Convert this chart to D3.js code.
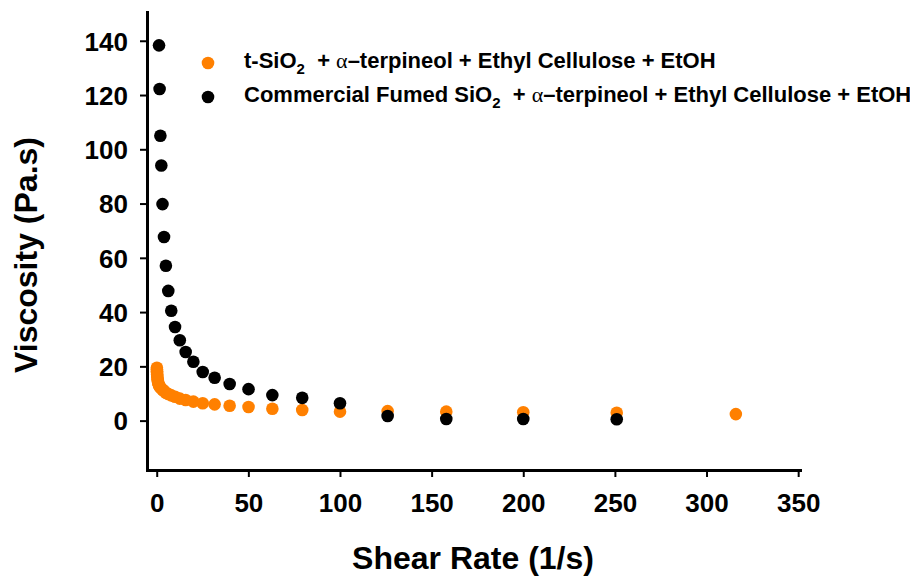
<!DOCTYPE html>
<html>
<head>
<meta charset="utf-8">
<script src="https://cdn.jsdelivr.net/npm/d3@7"></script>
<style>
  html, body { margin: 0; padding: 0; background: #fff; }
  svg { display: block; }
  text { font-family: "Liberation Sans", Arial, sans-serif; font-weight: bold; fill: #000; }
</style>
</head>
<body>
<svg id="chart" width="910" height="577"></svg>
<script>
// Shear rate (1/s) and viscosity (Pa.s) for the two pastes
const tSiO2Rate = [0.1, 0.126, 0.158, 0.2, 0.251, 0.316, 0.398, 0.501, 0.631, 0.794,
  1, 1.26, 1.58, 2, 2.51, 3.16, 3.98, 5.01, 6.31, 7.94,
  10, 12.6, 15.8, 20, 25.1, 31.6, 39.8, 50.1, 63.1, 79.4,
  100, 126, 158, 200, 251, 316];
const tSiO2Visc = [19.5, 18.8, 18.2, 17.6, 17.0, 16.4, 15.8, 15.2, 14.6, 14.0,
  13.5, 13.0, 12.6, 12.2, 11.9, 11.4, 10.9, 10.3, 9.8, 9.3,
  8.8, 8.1, 7.6, 7.0, 6.4, 6.0, 5.5, 5.0, 4.4, 3.9,
  3.3, 3.5, 3.3, 3.1, 2.9, 2.4];

const fumedRate = [1.26, 1.58, 2, 2.51, 3.16, 3.98, 5.01, 6.31, 7.94, 10,
  12.6, 15.8, 20, 25.1, 31.6, 39.8, 50.1, 63.1, 79.4, 100,
  126, 158, 200, 251];
const fumedVisc = [138.3, 122.2, 105.0, 94.0, 79.8, 67.7, 57.1, 47.8, 40.5, 34.5,
  29.6, 25.3, 21.7, 17.9, 15.8, 13.5, 11.6, 9.4, 8.4, 6.4,
  1.7, 0.6, 0.6, 0.5];

const xTicks = [0, 50, 100, 150, 200, 250, 300, 350];
const yTicks = [0, 20, 40, 60, 80, 100, 120, 140];

const seriesNames = ["t-SiO", "Commercial Fumed SiO"];
const seriesColors = ["#ff8000", "#000000"];

const svg = d3.select("#chart");

const x = d3.scaleLinear().domain([-5.3, 351]).range([147, 800]);
const y = d3.scaleLinear().domain([-18.2, 150.6]).range([470, 12]);

// Axes
const xAxis = svg.append("g")
  .attr("transform", `translate(0,${y(-18.2)})`)
  .call(d3.axisBottom(x).tickValues(xTicks).tickSizeInner(7).tickSizeOuter(0).tickPadding(17));
const yAxis = svg.append("g")
  .attr("transform", `translate(${x(-5.3)},0)`)
  .call(d3.axisLeft(y).tickValues(yTicks).tickSizeInner(7).tickSizeOuter(0).tickPadding(12));

[xAxis, yAxis].forEach(g => {
  g.select(".domain").attr("stroke", "#000").attr("stroke-width", 3).attr("stroke-linecap", "square");
  g.selectAll(".tick line").attr("stroke", "#000").attr("stroke-width", 2);
  g.selectAll(".tick text")
    .attr("font-family", "'Liberation Sans', Arial, sans-serif")
    .attr("font-weight", "bold")
    .attr("font-size", 26)
    .attr("fill", "#000");
});
yAxis.selectAll(".tick text").attr("dy", "0.36em");

// Axis titles
svg.append("text")
  .attr("x", 473).attr("y", 569)
  .attr("text-anchor", "middle")
  .attr("font-size", 32)
  .text("Shear Rate (1/s)");

svg.append("text")
  .attr("transform", "translate(37,255) rotate(-90)")
  .attr("text-anchor", "middle")
  .attr("font-size", 32)
  .text("Viscosity (Pa.s)");

// Data points: orange series first, black series on top
const pts = [
  { rate: tSiO2Rate, visc: tSiO2Visc, color: seriesColors[0] },
  { rate: fumedRate, visc: fumedVisc, color: seriesColors[1] }
];
pts.forEach(s => {
  svg.append("g").selectAll("circle")
    .data(s.rate.map((r, i) => [r, s.visc[i]]))
    .join("circle")
    .attr("cx", d => x(d[0]))
    .attr("cy", d => y(d[1]))
    .attr("r", 6.3)
    .attr("fill", s.color);
});

// Legend
const legend = svg.append("g");
seriesNames.forEach((name, i) => {
  const cy = 63 + i * 34;
  legend.append("circle").attr("cx", 208).attr("cy", cy).attr("r", 6.3).attr("fill", seriesColors[i]);
  const t = legend.append("text")
    .attr("x", 244).attr("y", cy + 5)
    .attr("font-size", 22)
    .style("white-space", "pre");
  t.append("tspan").text(name);
  t.append("tspan").attr("font-size", 15).attr("dy", 6).text("2");
  t.append("tspan").attr("dy", -6).text("  + ");
  t.append("tspan")
    .attr("font-family", "'Liberation Serif', 'Times New Roman', serif")
    .attr("font-weight", "normal")
    .text("\u03b1");
  t.append("tspan").text("\u2013terpineol + Ethyl Cellulose + EtOH");
});
</script>
</body>
</html>
